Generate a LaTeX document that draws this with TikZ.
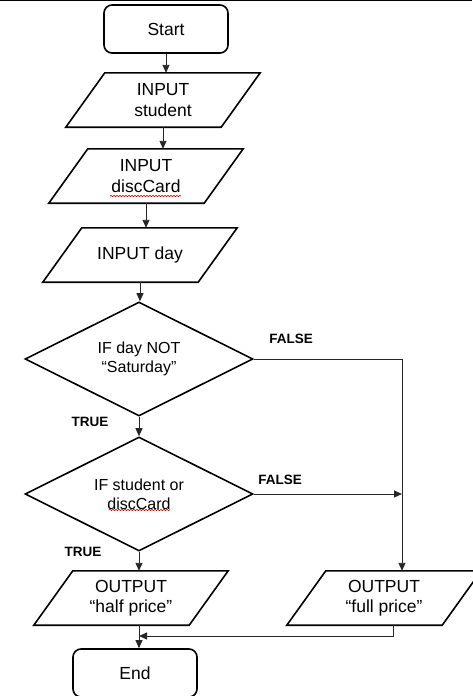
\documentclass[tikz,border=0pt]{standalone}
\usepackage{fontspec}
\setmainfont{Liberation Sans}
\usetikzlibrary{arrows.meta,shapes.geometric,decorations.pathmorphing}

\begin{document}
\begin{tikzpicture}[x=1pt,y=-1pt,
  term/.style={draw,line width=1.6pt,rounded corners=8pt,minimum width=124pt,minimum height=48pt,font=\fontsize{17.5}{20.5}\selectfont},
  io/.style={minimum width=155pt,minimum height=54pt,inner sep=0pt,align=center,font=\fontsize{17.5}{20.5}\selectfont,
    append after command={\pgfextra{\let\ionode\tikzlastnode
      \draw[line width=1.6pt] ([xshift=19.5pt]\ionode.north west) -- ([xshift=19.5pt]\ionode.north east)
        -- ([xshift=-19.5pt]\ionode.south east) -- ([xshift=-19.5pt]\ionode.south west) -- cycle;}}},
  decision/.style={draw,line width=1.6pt,diamond,aspect=2,minimum width=228pt,minimum height=114pt,inner sep=0pt,align=center,font=\fontsize{16}{19}\selectfont},
  arr/.style={-{Triangle[length=8pt,width=7pt]},line width=0.9pt,black!85},
  lbl/.style={font=\fontsize{13.5}{16}\selectfont\bfseries},
  squiggle/.style={red!80!black,line width=0.6pt,decorate,decoration={snake,amplitude=0.7pt,segment length=3pt}}
]
  \useasboundingbox (0,0) rectangle (472,696);
  \draw[line width=1pt] (0,0.5) -- (472,0.5);

  % steps
  \node[term] (start) at (166,29) {Start};
  \node[io] (student) at (163,100) {INPUT\\student};
  \node[io] (disc) at (146,176) {INPUT\\discCard};
  \node[io] (day) at (140,255) {INPUT day};
  \node[decision] (ifday) at (139,359) {IF day NOT\\``Saturday''};
  \node[decision] (ifstud) at (139,494) {IF student or\\discCard};
  \node[io] (half) at (131,598) {OUTPUT\\``half price''};
  \node[io] (full) at (384,598) {OUTPUT\\``full price''};
  \node[term] (end) at (135,673) {End};

  % branch labels
  \node[lbl] (f1) at (291,339) {FALSE};
  \node[lbl] (t1) at (90,422) {TRUE};
  \node[lbl] (f2) at (280,480) {FALSE};
  \node[lbl] (t2) at (83,552) {TRUE};

  % spelling marks
  \draw[squiggle] (110,196) -- (181,196);
  \draw[squiggle] (109,510) -- (170,510);

  % flow
  \coordinate (fr) at (402,359);
  \coordinate (jn) at (393,636);
  \coordinate (mg) at (139,636);
  \draw[arr] (start.south) -- (start.south |- student.north);
  \draw[arr] (student.south) -- (student.south |- disc.north);
  \draw[arr] (disc.south) -- (disc.south |- day.north);
  \draw[arr] (day.south) -- (day.south |- ifday.north);
  \draw[arr] (ifday.south) -- (ifstud.north);
  \draw[arr] (ifstud.south) -- (ifstud.south |- half.north);
  \draw[arr] (ifday.east) -- (fr) -- (fr |- full.north);
  \draw[arr] (ifstud.east) -- (ifstud.east -| fr);
  \draw[arr] (jn |- full.south) -- (jn) -- (mg);
  \draw[arr] (mg |- half.south) -- (mg |- end.north);
\end{tikzpicture}
\end{document}
